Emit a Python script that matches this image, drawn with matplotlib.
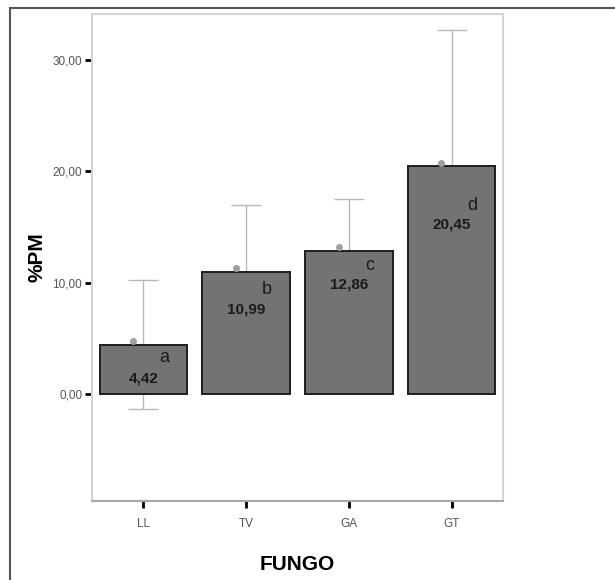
from matplotlib import pyplot as plt
from matplotlib.patches import Rectangle
import matplotlib.transforms as mtransforms
import numpy as np

plt.rcParams['font.family'] = ['Liberation Sans', 'DejaVu Sans']

fungos = ['LL', 'TV', 'GA', 'GT']
medias = [4.42, 10.99, 12.86, 20.45]
erros = [5.78, 6.01, 4.62, 12.20]
letras = ['a', 'b', 'c', 'd']
rotulos = ['4,42', '10,99', '12,86', '20,45']

# deslocamentos dos textos abaixo do topo da barra (em pontos)
desl_valor = [24, 27, 24, 42]
desl_letra = [9, 13, 11, 28]

fig = plt.figure(figsize=(6.15, 5.8), dpi=100)
ax = fig.add_axes([92/615, 1 - 501/580, 411/615, 487/580])

x = np.arange(len(fungos))

ax.errorbar(x, medias, yerr=erros, fmt='none', ecolor='#b8b8b8',
            elinewidth=1, capsize=11, capthick=1, zorder=1)
trans_ponto = mtransforms.offset_copy(ax.transData, fig=fig, x=0, y=2.5, units='points')
ax.plot(x - 0.1, medias, 'o', color='#a0a0a0', markersize=4, zorder=3,
        transform=trans_ponto)
ax.bar(x, medias, width=0.85, color='#737373', edgecolor='#1e1e1e',
       linewidth=1.4, zorder=2)

for i in range(len(fungos)):
    ax.annotate(rotulos[i], (x[i], medias[i]), xytext=(0, -desl_valor[i]),
                textcoords='offset points', ha='center', va='center',
                fontsize=11, fontweight='bold', color='#1a1a1a', zorder=3)
    ax.annotate(letras[i], (x[i] + 0.2, medias[i]), xytext=(0, -desl_letra[i]),
                textcoords='offset points', ha='center', va='center',
                fontsize=13, color='#1a1a1a', zorder=3)

ax.set_xlim(-0.5, 3.5)
ax.set_ylim(-9.6, 34.1)
ax.set_xticks(x)
ax.set_xticklabels(fungos)
ax.set_yticks([0, 10, 20, 30])
ax.set_yticklabels(['0,00', '10,00', '20,00', '30,00'])
ax.tick_params(axis='both', length=5, width=2, color='black',
               labelsize=8.5, labelcolor='#555555')
ax.tick_params(axis='x', pad=7)
ax.tick_params(axis='y', pad=2)

for lado in ['left', 'top', 'right']:
    ax.spines[lado].set_color('#d4d4d4')
    ax.spines[lado].set_linewidth(1.5)
ax.spines['bottom'].set_color('#a8a8a8')
ax.spines['bottom'].set_linewidth(1.5)

ax.set_ylabel('%PM', fontsize=15, fontweight='bold', labelpad=4)
ax.set_xlabel('FUNGO', fontsize=15, fontweight='bold', labelpad=18)

fig.patches.append(Rectangle((10/615, -0.1), 1.2, 1 - 8/580 + 0.1,
                             transform=fig.transFigure, fill=False,
                             edgecolor='#555555', linewidth=1.5))

plt.savefig('out.png', dpi=100)
